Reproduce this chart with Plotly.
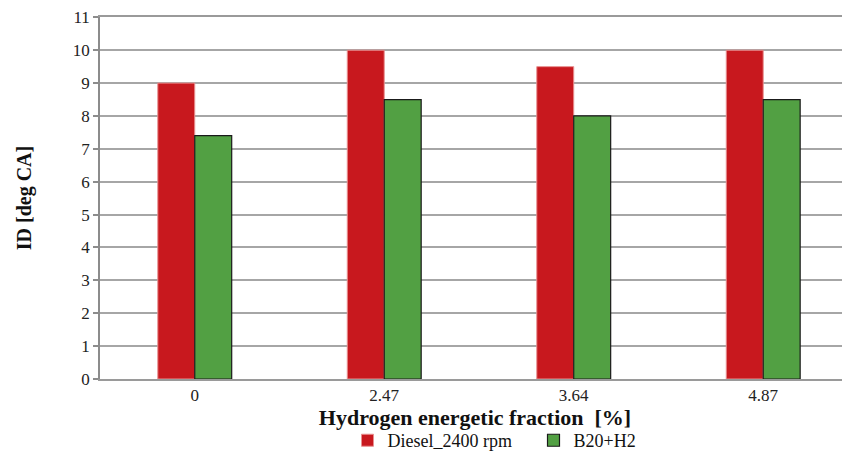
import plotly.graph_objects as go

categories = ["0", "2.47", "3.64", "4.87"]
diesel = [9, 10, 9.5, 10]
b20h2 = [7.4, 8.5, 8, 8.5]
y_ticks = list(range(0, 12))

FONT = "Liberation Serif, Times New Roman, serif"

fig = go.Figure()
fig.add_trace(go.Bar(
    x=categories, y=diesel, name="Diesel_2400 rpm",
    marker=dict(color="#C8181E", line=dict(color="#E89090", width=1)),
))
fig.add_trace(go.Bar(
    x=categories, y=b20h2, name="B20+H2",
    marker=dict(color="#52A043", line=dict(color="#1A1A1A", width=1.2)),
))

# page body has an 8px margin, so the figure is drawn 8px smaller and offset
fig.update_layout(
    width=842, height=450,
    margin=dict(l=92, r=0, t=9, b=79, autoexpand=False),
    paper_bgcolor="white", plot_bgcolor="white",
    barmode="group", bargap=0.61, bargroupgap=0,
    font=dict(family=FONT, size=17, color="#222222"),
    showlegend=True,
    legend=dict(orientation="h", x=0.33, xanchor="left", y=-0.17, yanchor="middle",
                font=dict(family=FONT, size=18, color="#111111"),
                entrywidth=141, entrywidthmode="pixels", traceorder="normal"),
    xaxis=dict(
        type="category", range=[-0.5, 3.458], automargin=False,
        showline=True, mirror=True, linecolor="#9A9A9A", linewidth=1.5,
        ticks="", showgrid=False,
        tickfont=dict(family=FONT, size=17, color="#222222"),
        title=dict(text="<b>Hydrogen energetic fraction  [%]</b>",
                   font=dict(family=FONT, size=22, color="#111111"), standoff=3),
    ),
    yaxis=dict(
        range=[0, 11.01], tickvals=y_ticks, ticktext=[str(v) for v in y_ticks],
        automargin=True,
        showline=True, linecolor="#8C8C8C", linewidth=1.5,
        ticks="outside", ticklen=5, tickcolor="#8C8C8C", tickwidth=1.5,
        showgrid=True, gridcolor="#A6A6A6", gridwidth=1.5,
        zeroline=False,
        tickfont=dict(family=FONT, size=17, color="#222222"),
        title=dict(text="<b>ID [deg CA]</b>",
                   font=dict(family=FONT, size=20, color="#111111"), standoff=36),
    ),
)

fig.write_html("out.html")
